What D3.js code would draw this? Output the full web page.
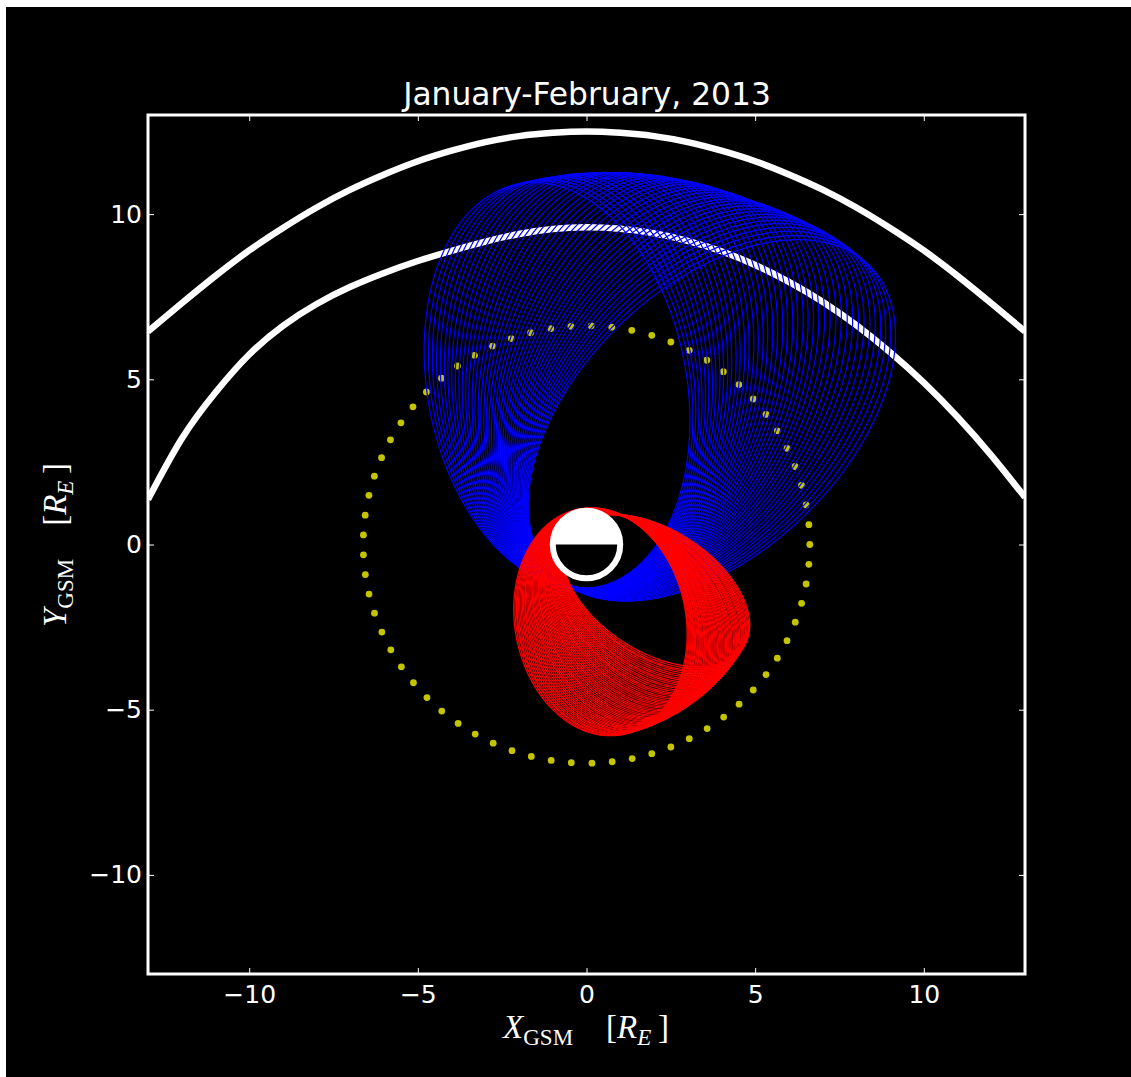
<!DOCTYPE html>
<html>
<head>
<meta charset="utf-8">
<script src="https://cdn.jsdelivr.net/npm/d3@7"></script>
<style>
  html, body { margin: 0; padding: 0; background: #ffffff; }
  svg { display: block; }
</style>
</head>
<body>
<svg id="chart" width="1131" height="1077"></svg>
<script>
// ---------------- DATA ----------------
const title = "January-February, 2013";
const tickValues = [-10, -5, 0, 5, 10];
const axisDomain = [-13, 13];

// Bow shock (outer white curve), sampled points [R_E]
const shockX = [-13,-12,-11,-10,-9,-8,-7,-6,-5,-4,-3,-2,-1,0,1,2,3,4,5,6,7,8,9,10,11,12,13];
const shockY = [6.45,7.3,8.13,8.9,9.58,10.2,10.74,11.2,11.6,11.92,12.18,12.36,12.46,12.5,12.46,12.36,12.18,11.92,11.6,11.2,10.74,10.2,9.58,8.9,8.13,7.3,6.45];

// Magnetopause (inner white curve), sampled points [R_E]
const mpX = [-13,-12,-11,-10,-9,-8,-7,-6,-5,-4,-3,-2,-1,0,1,2,3,4,5,6,7,8,9,10,11,12,13];
const mpY = [1.36,3.2,4.6,5.75,6.62,7.28,7.8,8.22,8.58,8.89,9.17,9.4,9.55,9.6,9.555,9.42,9.19,8.875,8.46,7.95,7.35,6.64,5.82,4.9,3.86,2.7,1.43];

// Geosynchronous track (yellow dots): azimuth angles [deg] at radius geoRadius
const geoRadius = 6.62;
const geoAngle = [88.8,94.0,99.2,104.5,109.7,114.9,120.1,125.3,130.5,135.8,141.0,146.2,151.4,156.6,161.8,167.0,172.3,177.5,182.7,187.9,193.1,198.3,203.6,208.8,214.0,219.2,224.4,229.6,234.9,240.1,245.3,250.5,255.7,260.9,266.1,271.4,276.6,281.8,287.0,292.2,297.4,302.7,307.9,313.1,318.3,323.5,328.7,333.9,339.2,344.4,349.6,354.8,0.0,5.2,10.4,15.7,20.9,26.1,31.3,36.5,41.7,47.0,52.2,57.4,62.6,67.8,73.0,78.3,83.5];

// Blue orbits: apogee direction [deg], apogee distance [R_E]; common perigee
const blueAngle = [100.3,99.0,97.8,96.5,95.3,94.0,92.8,91.5,90.3,89.0,87.8,86.5,85.3,84.0,82.8,81.5,80.3,79.0,77.8,76.5,75.3,74.0,72.8,71.5,70.3,69.0,67.8,66.5,65.3,64.0,62.8,61.5,60.3,59.0,57.8,56.5,55.3,54.0,52.8,51.5,50.3,49.0,47.8,46.5,45.3];
const blueApogee = [11.10,11.12,11.13,11.15,11.17,11.18,11.20,11.22,11.23,11.25,11.26,11.28,11.29,11.31,11.32,11.33,11.35,11.36,11.37,11.38,11.39,11.40,11.42,11.43,11.44,11.45,11.46,11.48,11.49,11.50,11.53,11.56,11.60,11.63,11.66,11.69,11.72,11.75,11.79,11.82,11.85,11.87,11.88,11.89,11.90];
const bluePerigee = 1.33;

// Red orbits: apogee direction [deg], apogee and perigee distance [R_E]
const redAngle = [280.0,280.8,281.6,282.3,283.1,283.9,284.7,285.5,286.2,287.0,287.8,288.6,289.4,290.1,290.9,291.7,292.5,293.3,294.0,294.8,295.6,296.4,297.2,297.9,298.7,299.5,300.3,301.1,301.8,302.6,303.4,304.2,305.0,305.7,306.5,307.3,308.1,308.8,309.6,310.4,311.2,312.0,312.7,313.5,314.3,315.1,315.9,316.6,317.4,318.2,319.0,319.8,320.5,321.3,322.1,322.9,323.7,324.4,325.2,326.0];
const redApogee = [5.85,5.85,5.84,5.84,5.83,5.83,5.82,5.82,5.82,5.81,5.81,5.80,5.80,5.79,5.79,5.79,5.78,5.78,5.77,5.77,5.76,5.76,5.76,5.75,5.75,5.74,5.74,5.73,5.73,5.73,5.72,5.72,5.71,5.71,5.70,5.70,5.70,5.69,5.69,5.68,5.68,5.67,5.67,5.67,5.66,5.66,5.65,5.65,5.64,5.64,5.64,5.63,5.63,5.62,5.62,5.61,5.61,5.61,5.60,5.60];
const redPerigee = [1.10,1.09,1.08,1.08,1.07,1.06,1.05,1.04,1.03,1.02,1.02,1.01,1.00,0.99,0.98,0.97,0.96,0.96,0.95,0.94,0.93,0.92,0.91,0.91,0.90,0.89,0.88,0.87,0.86,0.85,0.85,0.84,0.83,0.82,0.81,0.80,0.79,0.79,0.78,0.77,0.76,0.75,0.74,0.74,0.73,0.72,0.71,0.70,0.69,0.68,0.68,0.67,0.66,0.65,0.64,0.63,0.62,0.62,0.61,0.60];

const earthRadius = 1.0;

// ---------------- CHART ----------------
const svg = d3.select("#chart");
const W = 1131, H = 1077;
svg.append("rect").attr("x", 6).attr("y", 7).attr("width", W - 6).attr("height", H - 7).attr("fill", "#000");

const x = d3.scaleLinear().domain(axisDomain).range([148, 1025]);
const y = d3.scaleLinear().domain(axisDomain).range([974, 115]);

svg.append("defs").append("clipPath").attr("id", "plotclip")
  .append("rect").attr("x", 148).attr("y", 115).attr("width", 1025 - 148).attr("height", 974 - 115);

const plot = svg.append("g").attr("clip-path", "url(#plotclip)");

const line = d3.line().x(d => x(d[0])).y(d => y(d[1]));
const smooth = d3.line().x(d => x(d[0])).y(d => y(d[1])).curve(d3.curveNatural);

// geosynchronous dots
plot.append("g").selectAll("circle").data(geoAngle).join("circle")
  .attr("cx", a => x(geoRadius * Math.cos(a * Math.PI / 180)))
  .attr("cy", a => y(geoRadius * Math.sin(a * Math.PI / 180)))
  .attr("r", 3.4).attr("fill", "#c4c400");

// bow shock and magnetopause
plot.append("path").datum(shockX.map((v, i) => [v, shockY[i]]))
  .attr("d", smooth).attr("fill", "none").attr("stroke", "#fff").attr("stroke-width", 6.5);
plot.append("path").datum(mpX.map((v, i) => [v, mpY[i]]))
  .attr("d", smooth).attr("fill", "none").attr("stroke", "#fff").attr("stroke-width", 6.5);

function orbit(apoDeg, ra, rp) {
  const a = (ra + rp) / 2, e = (ra - rp) / (ra + rp), p = a * (1 - e * e);
  const peri = (apoDeg + 180) * Math.PI / 180;
  return d3.range(0, 361, 1).map(deg => {
    const nu = deg * Math.PI / 180;
    const r = p / (1 + e * Math.cos(nu));
    return [r * Math.cos(peri + nu), r * Math.sin(peri + nu)];
  });
}

// blue orbits
plot.append("g").selectAll("path").data(blueAngle.map((a, i) => orbit(a, blueApogee[i], bluePerigee))).join("path")
  .attr("d", line).attr("fill", "none").attr("stroke", "#0000ff").attr("stroke-width", 1.2);

// red orbits
plot.append("g").selectAll("path").data(redAngle.map((a, i) => orbit(a, redApogee[i], redPerigee[i]))).join("path")
  .attr("d", line).attr("fill", "none").attr("stroke", "#ff0000").attr("stroke-width", 1.2);

// Earth
const ex = x(0), ey = y(0), er = x(earthRadius) - x(0);
plot.append("circle").attr("cx", ex).attr("cy", ey).attr("r", er).attr("fill", "#000");
plot.append("path").attr("d", `M${ex - er},${ey} A${er},${er} 0 0 1 ${ex + er},${ey} Z`).attr("fill", "#fff");
plot.append("circle").attr("cx", ex).attr("cy", ey).attr("r", er).attr("fill", "none").attr("stroke", "#fff").attr("stroke-width", 6);

// frame
svg.append("rect").attr("x", 148).attr("y", 115).attr("width", 1025 - 148).attr("height", 974 - 115)
  .attr("fill", "none").attr("stroke", "#fff").attr("stroke-width", 3);

// axes
function styleAxis(g) {
  g.select(".domain").remove();
  g.selectAll(".tick line").attr("stroke", "#fff").attr("stroke-width", 1);
  g.selectAll(".tick text").attr("fill", "#fff").attr("font-family", "DejaVu Sans").attr("font-size", 25);
}
svg.append("g").attr("transform", "translate(0,974)")
  .call(d3.axisBottom(x).tickValues(tickValues).tickSizeInner(-6).tickSizeOuter(0).tickPadding(11)).call(styleAxis);
svg.append("g").attr("transform", "translate(0,115)")
  .call(d3.axisTop(x).tickValues(tickValues).tickSizeInner(-6).tickSizeOuter(0).tickFormat("")).call(styleAxis);
svg.append("g").attr("transform", "translate(148,0)")
  .call(d3.axisLeft(y).tickValues(tickValues).tickSizeInner(-6).tickSizeOuter(0).tickPadding(6)).call(styleAxis);
svg.append("g").attr("transform", "translate(1025,0)")
  .call(d3.axisRight(y).tickValues(tickValues).tickSizeInner(-6).tickSizeOuter(0).tickFormat("")).call(styleAxis);

// title
svg.append("text").attr("x", 587).attr("y", 105).attr("text-anchor", "middle")
  .attr("font-family", "DejaVu Sans").attr("font-size", 31.3).attr("fill", "#fff").text(title);

// axis labels
function mathLabel(sel, sym) {
  sel.attr("font-family", "Liberation Serif, DejaVu Serif, serif").attr("fill", "#fff").attr("font-size", 33).attr("text-anchor", "middle");
  sel.append("tspan").attr("font-style", "italic").text(sym);
  sel.append("tspan").attr("font-size", 23).attr("dy", 7).text("GSM");
  sel.append("tspan").attr("dy", -7).attr("xml:space", "preserve").text("\u2002\u2002[");
  sel.append("tspan").attr("font-style", "italic").text("R");
  sel.append("tspan").attr("font-style", "italic").attr("font-size", 23).attr("dy", 7).text("E");
  sel.append("tspan").attr("dy", -7).text("\u2009]");
}
svg.append("text").attr("x", 586).attr("y", 1038).call(mathLabel, "X");
svg.append("text").attr("transform", "translate(66,545) rotate(-90)").call(mathLabel, "Y");
</script>
</body>
</html>
